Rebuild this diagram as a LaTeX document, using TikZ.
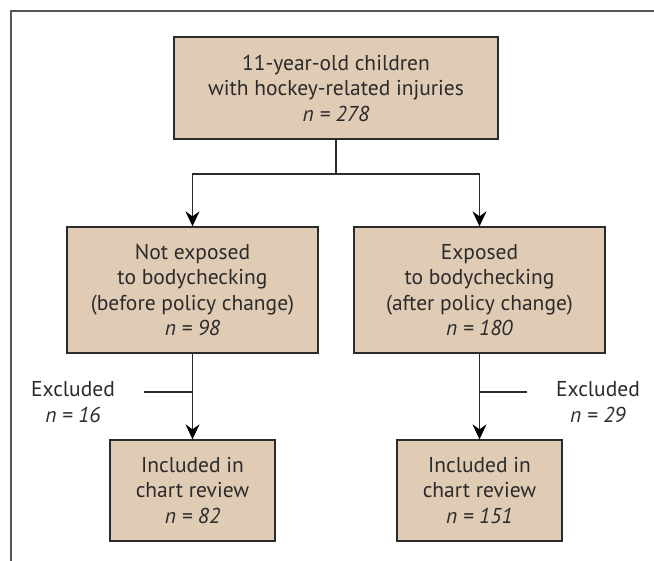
\documentclass[tikz,border=0pt]{standalone}
\usepackage{fontspec}
\setmainfont{PT Sans}
\usepackage{xcolor}
\usepackage{tikz}
\usetikzlibrary{positioning,calc,arrows.meta}
\definecolor{Ink}{HTML}{2B2B2B}
\definecolor{Rule}{HTML}{555555}
\definecolor{Tan}{HTML}{E0CBB5}
\newcommand{\FlowBox}[5]{%
\node[stagebox, minimum width=#3, minimum height=#4] (#1) at #2 {#5};
}

\begin{document}
\begin{tikzpicture}[
    x=1pt,
    y=-1pt,
    every node/.style={font=\fontsize{21.5}{25.5}\selectfont, text=Ink},
    stagebox/.style={rectangle, draw=Ink, fill=Tan, line width=1.3pt,
        inner sep=0pt, align=center},
    link/.style={draw=Ink, line width=1.3pt},
    flow/.style={link, -{Stealth[length=15pt, width=14pt, inset=5pt, color=black]}}
]
\useasboundingbox (0,0) rectangle (654,561);

% Frame (top and left edges)
\draw[Rule, line width=2pt] (11,561) -- (11,11) -- (654,11);

% Boxes
\FlowBox{nAll}{(336,88)}{324pt}{102pt}{11-year-old children\\with hockey-related injuries\\\textit{n = 278}}
\FlowBox{nNot}{(192.5,290)}{251pt}{126pt}{Not exposed\\to bodychecking\\(before policy change)\\\textit{n = 98}}
\FlowBox{nExp}{(479.5,290)}{251pt}{126pt}{Exposed\\to bodychecking\\(after policy change)\\\textit{n = 180}}
\FlowBox{nInNot}{(192.5,490.5)}{165pt}{101pt}{Included in\\chart review\\\textit{n = 82}}
\FlowBox{nInExp}{(479.5,490.5)}{165pt}{101pt}{Included in\\chart review\\\textit{n = 151}}

% Exclusions
\node[align=center] (xNot) at (73,402) {Excluded\\\textit{n = 16}};
\node[align=center] (xExp) at (598,402) {Excluded\\\textit{n = 29}};

% Split
\coordinate (fork) at (nAll.south |- 0,174);
\draw[link] (nAll.south) -- (fork);
\draw[flow] (fork) -| (nNot.north);
\draw[flow] (fork) -| (nExp.north);

% Down to chart review
\draw[flow] (nNot.south) -- (nInNot.north);
\draw[flow] (nExp.south) -- (nInExp.north);

\coordinate (cutNot) at (144,392);
\coordinate (cutExp) at (527,392);
\draw[link] (cutNot) -- (nNot.south |- cutNot);
\draw[link] (cutExp) -- (nExp.south |- cutExp);

\end{tikzpicture}
\end{document}
